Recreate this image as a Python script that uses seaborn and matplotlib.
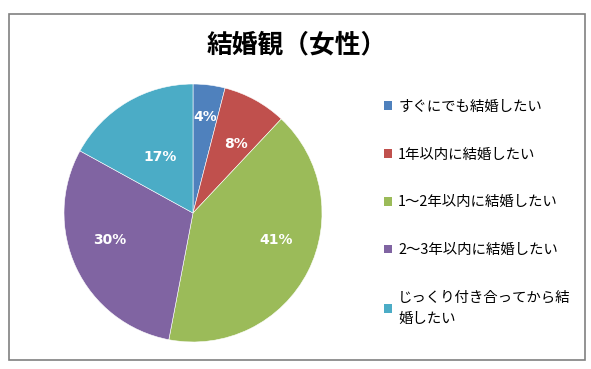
import matplotlib
matplotlib.use("Agg")
import matplotlib.pyplot as plt
import seaborn as sns
import numpy as np
from matplotlib.patches import Rectangle

sns.set_style("white")
plt.rcParams['font.family'] = ['Noto Sans CJK JP', 'DejaVu Sans']
plt.rcParams['text.color'] = 'black'

title = "結婚観（女性）"
categories = ["すぐにでも結婚したい", "1年以内に結婚したい", "1～2年以内に結婚したい",
              "2～3年以内に結婚したい", "じっくり付き合ってから結\n婚したい"]
values = [4, 8, 41, 30, 17]
colors = sns.color_palette(["#4F81BD", "#C0504D", "#9BBB59", "#8064A2", "#4BACC6"])
label_dist = [0.75, 0.63, 0.68, 0.68, 0.50]
label_angle_shift = [0, -3, 9, -7, 0]

fig = plt.figure(figsize=(5.91, 3.69), dpi=100)
fig.patch.set_facecolor("white")
fig.add_artist(Rectangle((9/591, 1-360/369), 576/591, 346/369, transform=fig.transFigure,
                         fill=False, edgecolor="#808080", linewidth=1.2))

ax = fig.add_axes([64/591, 27/369, 258/591, 258/369])
wedges, texts, autotexts = ax.pie(values, colors=colors, startangle=90, counterclock=False,
                                  autopct=lambda p: f"{p:.0f}%", pctdistance=1.0,
                                  wedgeprops=dict(edgecolor="white", linewidth=0.4),
                                  textprops=dict(color="white", fontsize=10, fontweight="bold"))
for w, t, d, s in zip(wedges, autotexts, label_dist, label_angle_shift):
    ang = np.deg2rad((w.theta1 + w.theta2) / 2 + s)
    t.set_position((d * np.cos(ang), d * np.sin(ang)))
    t.set_family(['DejaVu Sans'])
ax.set_xlim(-1, 1)
ax.set_ylim(-1, 1)
ax.set_aspect("equal")

fig.text(297/591, 1-45/369, title, ha="center", va="center", fontsize=18.5,
         fontweight="bold", color="black")

leg = fig.legend(wedges, categories, loc="upper left", bbox_to_anchor=(378/591, 1-94/369),
                 frameon=False, fontsize=10.4, handlelength=0.55, handleheight=0.55,
                 handletextpad=0.45, labelspacing=2.34, borderaxespad=0)
for h in leg.legend_handles:
    h.set_edgecolor("none")
for t in leg.get_texts():
    t.set_color("black")
    t.set_linespacing(1.6)

fig.savefig("out.png", dpi=100)
